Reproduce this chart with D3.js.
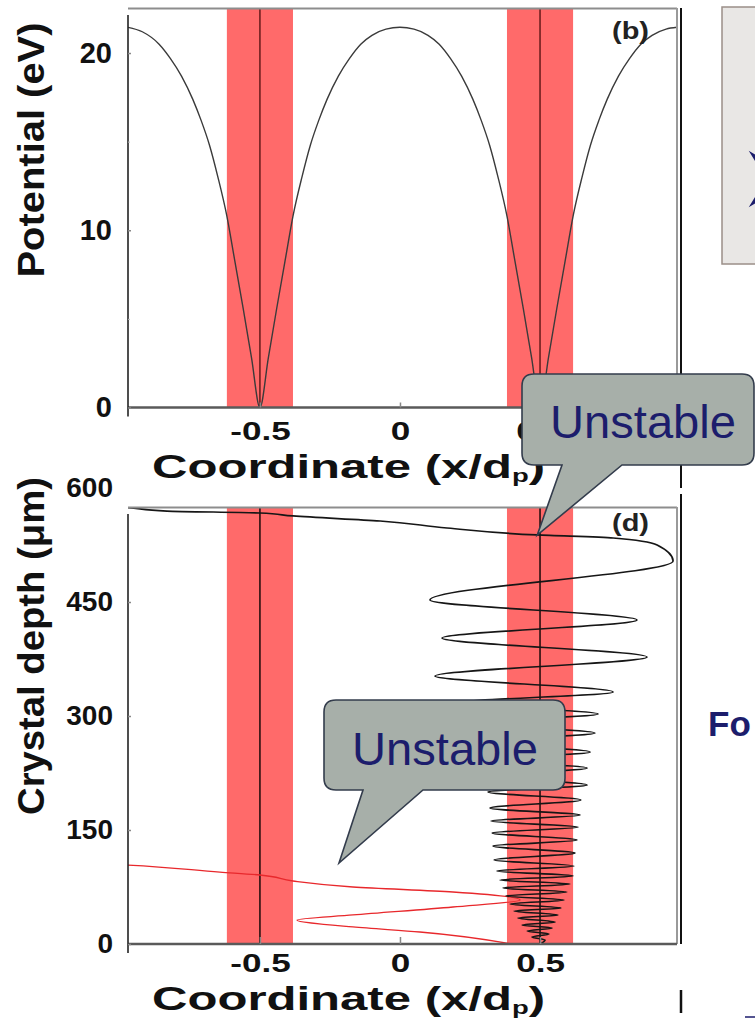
<!DOCTYPE html>
<html>
<head>
<meta charset="utf-8">
<script src="https://cdn.jsdelivr.net/npm/d3@7"></script>
<style>
  html, body { margin: 0; padding: 0; background: #fff; }
  svg { display: block; font-family: "Liberation Sans", Arial, Helvetica, sans-serif; }
</style>
</head>
<body>
<svg id="fig" width="755" height="1019"></svg>
<script>
// ---- data ----
const coordTicks = [-0.5, 0, 0.5];
const potentialTicks = [0, 10, 20];
const potentialMinorTicks = [5, 15];
const depthTicks = [0, 150, 300, 450, 600];
const planeCentres = [-0.5, 0.5];
const planeHalfWidth = 0.118;

// planar potential across two channels (x in units of d_p, V in eV)
const potentialX = [-0.971, -0.92, -0.86, -0.82, -0.78, -0.74, -0.71, -0.68, -0.65, -0.618, -0.59, -0.56, -0.53, -0.5,
  -0.47, -0.44, -0.41, -0.382, -0.35, -0.32, -0.29, -0.26, -0.22, -0.18, -0.14, -0.10, -0.05, 0,
  0.05, 0.10, 0.14, 0.18, 0.22, 0.26, 0.29, 0.32, 0.35, 0.382, 0.41, 0.44, 0.47, 0.5,
  0.53, 0.56, 0.59, 0.618, 0.65, 0.68, 0.71, 0.74, 0.78, 0.82, 0.86, 0.90, 0.95, 0.989];
const potentialV = [21.45, 21.2, 20.5, 19.7, 18.7, 17.4, 16.2, 14.8, 13.0, 10.8, 8.3, 5.6, 2.8, 0,
  2.8, 5.6, 8.3, 10.8, 13.0, 14.8, 16.2, 17.4, 18.7, 19.7, 20.5, 21.0, 21.35, 21.45,
  21.35, 21.0, 20.5, 19.7, 18.7, 17.4, 16.2, 14.8, 13.0, 10.8, 8.3, 5.6, 2.8, 0,
  2.8, 5.6, 8.3, 10.8, 13.0, 14.8, 16.2, 17.4, 18.7, 19.7, 20.5, 21.0, 21.35, 21.45];

// trajectory oscillating about the x = 0.5 plane (turning points, depth in µm)
const blackDepth = [0, 5.3, 9.2, 13.2, 17.1, 21.1, 25.0, 28.9, 34.2, 38.2,
  43.4, 47.4, 52.6, 57.9, 63.2, 68.4, 73.7, 78.9, 84.2, 89.5,
  96.1, 102.6, 110.5, 119.7, 128.9, 136.8, 146.1, 153.9, 161.8, 169.7,
  178.9, 189.5, 200, 209.2, 221.1, 231.6, 242.1, 252.6, 265.8, 277.6,
  290.8, 302.6, 317.1, 331.6, 352.6, 377.6, 402.6, 426.3, 452.6, 503.9,
  525, 534.2, 538.2, 547.4, 556.6, 563.2, 567.1, 569.7, 574.3, 580.3];
const blackX = [0.5, 0.518, 0.471, 0.532, 0.454, 0.543, 0.436, 0.554, 0.421, 0.564,
  0.407, 0.575, 0.393, 0.586, 0.379, 0.596, 0.368, 0.607, 0.357, 0.618,
  0.346, 0.621, 0.336, 0.625, 0.332, 0.632, 0.329, 0.636, 0.325, 0.643,
  0.321, 0.646, 0.314, 0.668, 0.304, 0.668, 0.286, 0.679, 0.257, 0.696,
  0.232, 0.707, 0.196, 0.761, 0.125, 0.882, 0.150, 0.846, 0.107, 0.975,
  0.918, 0.761, 0.489, 0.168, -0.071, -0.382, -0.5, -0.832, -0.971, -1.21];

// trajectory escaping early from the channel
const redDepth = [0, 15.8, 22.4, 31.6, 38.2, 48.7, 57.9, 68.4, 75, 82.9, 90.8, 94.7, 103.9, 107.9];
const redX = [0.40, 0.071, -0.168, -0.368, -0.168, 0.189, 0.429, 0.189, -0.168, -0.382, -0.5, -0.643, -0.971, -1.214];

// ---- layout ----
const svg = d3.select("#fig");
const left = 128, right = 677;
const top1 = 8, bottom1 = 407.5;
const top2 = 507, bottom2 = 944;
const navy = "#1c1d6c";
const plain = d => String(d);

const x = d3.scaleLinear().domain([-0.971, 0.989]).range([left, right]);
const yPot = d3.scaleLinear().domain([0, 22.54]).range([bottom1, top1]);
const yDep = d3.scaleLinear().domain([0, 575]).range([bottom2, top2]);

const defs = svg.append("defs");
function clip(id, y0, y1) {
  defs.append("clipPath").attr("id", id)
    .append("rect").attr("x", left).attr("y", y0).attr("width", right - left).attr("height", y1 - y0);
}
clip("clipTop", top1, bottom1);
clip("clipBot", top2, bottom2);

function stretchText(sel, factor) {
  sel.each(function () {
    const w = this.getComputedTextLength();
    d3.select(this).attr("textLength", w * factor).attr("lengthAdjust", "spacingAndGlyphs");
  });
}

function panel(y0, y1, clipId) {
  const g = svg.append("g");
  const inner = g.append("g").attr("clip-path", `url(#${clipId})`);
  // channel bands around the atomic planes
  inner.selectAll("rect.band").data(planeCentres).join("rect")
    .attr("class", "band")
    .attr("x", d => x(d - planeHalfWidth))
    .attr("width", d => x(d + planeHalfWidth) - x(d - planeHalfWidth))
    .attr("y", y0).attr("height", y1 - y0)
    .attr("fill", "#ff6a6a");
  // frame
  g.append("line").attr("x1", left).attr("x2", right).attr("y1", y0 + 0.5).attr("y2", y0 + 0.5)
    .attr("stroke", "#8d8d8d").attr("stroke-width", 2.2);
  g.append("line").attr("x1", right).attr("x2", right).attr("y1", y0).attr("y2", y1)
    .attr("stroke", "#9a9a9a").attr("stroke-width", 2);
  g.append("line").attr("x1", left).attr("x2", right).attr("y1", y1).attr("y2", y1)
    .attr("stroke", "#5a5a5a").attr("stroke-width", 2.4);
  g.append("line").attr("x1", left).attr("x2", left).attr("y1", y0 + 7).attr("y2", y1 + 9)
    .attr("stroke", "#222").attr("stroke-width", 1.6);
  return { g, inner };
}

// ---- top panel: potential ----
const P1 = panel(top1, bottom1, "clipTop");
P1.inner.append("path")
  .datum(potentialX.map((v, i) => [v, potentialV[i]]))
  .attr("d", d3.line().x(d => x(d[0])).y(d => yPot(d[1])).curve(d3.curveMonotoneX))
  .attr("fill", "none").attr("stroke", "#3b3b3b").attr("stroke-width", 1.4);
P1.inner.selectAll("line.plane").data(planeCentres).join("line")
  .attr("x1", d => x(d)).attr("x2", d => x(d)).attr("y1", top1).attr("y2", bottom1)
  .attr("stroke", "#5a1414").attr("stroke-width", 1.4);

// ---- bottom panel: trajectories ----
const P2 = panel(top2, bottom2, "clipBot");
P2.inner.selectAll("line.plane").data(planeCentres).join("line")
  .attr("x1", d => x(d)).attr("x2", d => x(d)).attr("y1", top2).attr("y2", bottom2)
  .attr("stroke", "#2a1010").attr("stroke-width", 1.6);
const traj = d3.line().x(d => x(d[1])).y(d => yDep(d[0])).curve(d3.curveMonotoneY);
P2.inner.append("path")
  .datum(redDepth.map((v, i) => [v, redX[i]]))
  .attr("d", traj).attr("fill", "none").attr("stroke", "#e8282c").attr("stroke-width", 1.3);
P2.inner.append("path")
  .datum(blackDepth.map((v, i) => [v, blackX[i]]))
  .attr("d", traj).attr("fill", "none").attr("stroke", "#161616").attr("stroke-width", 1.7);

// ---- axes ----
function styleAxis(g) {
  g.select(".domain").remove();
  g.selectAll(".tick line").attr("stroke", "#888").attr("stroke-width", 1.5);
  g.selectAll(".tick text").attr("fill", "#111").attr("font-weight", "bold")
    .attr("font-family", "'Liberation Sans', Arial, sans-serif");
}
const axL1 = svg.append("g").attr("transform", `translate(${left},0)`)
  .call(d3.axisLeft(yPot).tickValues(potentialTicks).tickSize(-3).tickPadding(16).tickFormat(plain));
styleAxis(axL1);
axL1.selectAll(".tick text").attr("font-size", 29);
svg.append("g").attr("transform", `translate(${left},0)`)
  .call(d3.axisLeft(yPot).tickValues(potentialMinorTicks).tickSize(-2).tickFormat(""))
  .call(g => { g.select(".domain").remove(); g.selectAll(".tick line").attr("stroke", "#bbb"); });

const axB1 = svg.append("g").attr("transform", `translate(0,${bottom1})`)
  .call(d3.axisBottom(x).tickValues(coordTicks).tickSize(-5).tickPadding(14).tickFormat(plain));
styleAxis(axB1);
axB1.selectAll(".tick text").attr("font-size", 26).call(stretchText, 1.35);

const axL2 = svg.append("g").attr("transform", `translate(${left},0)`)
  .call(d3.axisLeft(yDep).tickValues(depthTicks).tickSize(-3).tickPadding(15).tickFormat(plain));
styleAxis(axL2);
axL2.selectAll(".tick text").attr("font-size", 28);
axL2.selectAll(".tick").filter(d => d > 575).select("line").remove();

const axB2 = svg.append("g").attr("transform", `translate(0,${bottom2})`)
  .call(d3.axisBottom(x).tickValues(coordTicks).tickSize(-7).tickPadding(10).tickFormat(plain));
styleAxis(axB2);
axB2.selectAll(".tick text").attr("font-size", 26).call(stretchText, 1.35);

// ---- titles ----
function coordTitle(baseline) {
  const t = svg.append("text").attr("x", 152).attr("y", baseline)
    .attr("font-size", 34).attr("font-weight", "bold").attr("fill", "#111");
  t.append("tspan").text("Coordinate (x/d");
  t.append("tspan").attr("font-size", 19).attr("dy", 4).text("p");
  t.append("tspan").attr("dy", -4).text(")");
  t.attr("textLength", 393).attr("lengthAdjust", "spacingAndGlyphs");
}
coordTitle(478);
coordTitle(1010);

function yTitle(label, cx, cy, len) {
  svg.append("text")
    .attr("transform", `translate(${cx},${cy}) rotate(-90)`)
    .attr("text-anchor", "middle")
    .attr("font-size", 36).attr("font-weight", "bold").attr("fill", "#111")
    .attr("textLength", len).attr("lengthAdjust", "spacingAndGlyphs")
    .text(label);
}
yTitle("Potential (eV)", 44, 150, 255);
yTitle("Crystal depth (\u03bcm)", 44, 646, 338);

// panel letters
[["(b)", 39], ["(d)", 531]].forEach(([s, yb]) => {
  svg.append("text").attr("x", 612).attr("y", yb)
    .attr("font-size", 24).attr("font-weight", "bold").attr("fill", "#222")
    .attr("textLength", 37).attr("lengthAdjust", "spacingAndGlyphs").text(s);
});

// ---- slide elements to the right ----
svg.append("line").attr("x1", 681).attr("x2", 681).attr("y1", top1).attr("y2", 488)
  .attr("stroke", "#111").attr("stroke-width", 2);
svg.append("line").attr("x1", 681).attr("x2", 681).attr("y1", 494).attr("y2", bottom2)
  .attr("stroke", "#111").attr("stroke-width", 2);
svg.append("line").attr("x1", 681).attr("x2", 681).attr("y1", 990).attr("y2", 1013)
  .attr("stroke", "#111").attr("stroke-width", 2.5);

svg.append("rect").attr("x", 722).attr("y", 7).attr("width", 60).attr("height", 257)
  .attr("fill", "#e9e7e5").attr("stroke", "#9b8f88").attr("stroke-width", 1.5);
{
  const cx = 777, cy = 179, ro = 40, ri = 11;
  const pts = [];
  for (let k = 0; k < 8; k++) {
    const a = Math.PI / 4 + k * Math.PI / 4;
    const r = k % 2 === 0 ? ro : ri;
    pts.push([cx + r * Math.cos(a), cy + r * Math.sin(a)]);
  }
  svg.append("path").attr("d", d3.line()(pts) + "Z").attr("fill", navy);
}
svg.append("text").attr("x", 708).attr("y", 736)
  .attr("font-size", 35).attr("font-weight", "bold").attr("fill", navy).text("Fo");
svg.append("line").attr("x1", 745).attr("x2", 755).attr("y1", 1017).attr("y2", 1017)
  .attr("stroke", navy).attr("stroke-width", 1.5);

// ---- callouts ----
function callout(x0, y0, x1, y1, bx0, bx1, tip, tx, ty) {
  const r = 12;
  const d = `M${x0 + r},${y0} H${x1 - r} Q${x1},${y0} ${x1},${y0 + r} V${y1 - r} Q${x1},${y1} ${x1 - r},${y1}
    H${bx1} L${tip[0]},${tip[1]} L${bx0},${y1} H${x0 + r} Q${x0},${y1} ${x0},${y1 - r} V${y0 + r} Q${x0},${y0} ${x0 + r},${y0} Z`;
  svg.append("path").attr("d", d).attr("fill", "#a7afa9").attr("stroke", "#333c4c").attr("stroke-width", 1.6);
  svg.append("text").attr("x", tx).attr("y", ty).attr("font-size", 46).attr("fill", navy)
    .attr("textLength", 186).attr("lengthAdjust", "spacingAndGlyphs").text("Unstable");
}
callout(522, 374, 754, 465, 562, 622, [x(0.49), yDep(538)], 550, 438);
callout(324, 700, 565, 790, 363, 423, [339, 863], 352, 765);
</script>
</body>
</html>
